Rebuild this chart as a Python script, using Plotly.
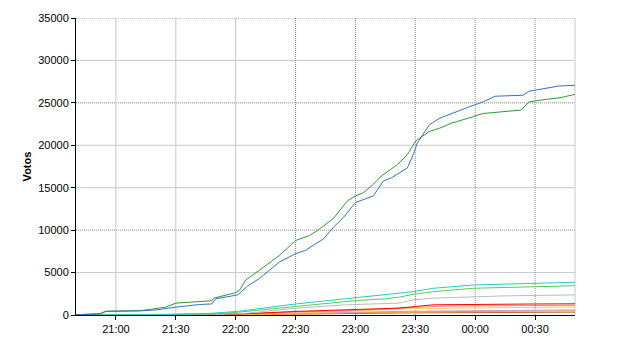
import pandas as pd
import plotly.graph_objects as go

# ---- data (times HH:MM, values = votes) ----
green_t = ["20:40","20:52","20:55","21:12","21:17","21:25","21:30","21:42","21:48","21:49","22:00","22:02","22:05","22:12","22:22","22:30","22:37","22:41","22:49","22:56","23:00","23:04","23:09","23:13","23:21","23:26","23:30","23:31","23:37","23:42","23:48","23:59","00:04","00:23","00:27","00:36","00:42","00:50"]
green_v = [30,150,450,520,650,930,1400,1630,1680,1980,2640,2950,4120,5290,7030,8780,9370,9950,11390,13450,14035,14420,15400,16370,17730,18900,20450,20650,21620,22000,22590,23370,23750,24150,25120,25430,25580,26000]

blue_t = ["20:40","20:52","20:55","21:12","21:20","21:25","21:30","21:42","21:48","21:50","22:00","22:01","22:06","22:12","22:22","22:30","22:35","22:39","22:44","22:49","22:54","23:00","23:06","23:09","23:14","23:18","23:22","23:26","23:29","23:31","23:37","23:42","23:57","00:04","00:10","00:24","00:27","00:42","00:50"]
blue_v = [30,150,420,480,600,770,930,1240,1300,1900,2250,2370,3420,4320,6250,7230,7620,8200,8980,10340,11500,13250,13720,14035,15790,16170,16750,17340,18900,20260,22400,23170,24530,25120,25780,25900,26370,26990,27070]

cyan_t = ["20:40","21:20","21:45","21:55","22:02","22:30","22:50","23:00","23:22","23:29","23:39","23:59","00:29","00:50"]
cyan_v = [0,30,150,350,450,1300,1800,2050,2560,2750,3150,3535,3730,3850]

lgreen_t = ["20:40","21:45","22:00","22:30","23:00","23:15","23:22","23:29","23:39","23:59","00:50"]
lgreen_v = [0,100,300,1000,1700,1900,2100,2450,2750,3150,3450]

grey_t = ["20:40","21:50","22:05","22:30","22:55","23:22","23:29","23:39","00:14","00:50"]
grey_v = [0,50,200,800,1200,1400,1785,1983,2250,2370]

red_t = ["20:40","22:00","22:30","23:00","23:22","23:30","23:39","00:30","00:50"]
red_v = [0,100,420,618,815,1000,1200,1300,1320]

salmon_t = ["20:40","22:00","22:30","23:00","23:30","23:45","00:50"]
salmon_v = [0,80,350,550,900,1050,1150]

yellow_t = ["20:40","22:00","22:30","23:00","23:22","00:00","00:50"]
yellow_v = [0,50,250,450,735,850,950]

lavender_t = ["20:40","22:30","23:30","00:50"]
lavender_v = [0,200,450,600]

orange_t = ["20:40","22:00","22:30","23:00","23:30","00:50"]
orange_v = [0,30,150,250,380,480]

brown_t = ["20:40","22:30","23:30","00:50"]
brown_v = [0,100,250,330]

x_ticks = ["21:00","21:30","22:00","22:30","23:00","23:30","00:00","00:30"]
y_ticks = [0,5000,10000,15000,20000,25000,30000,35000]
y_dotted = [35000,25000,10000]
x_dotted = ["22:30","23:00","23:30","00:00","00:30"]

BASE = pd.Timestamp("2011-05-22")

def ts(s):
    h, m = map(int, s.split(":"))
    d = BASE + pd.Timedelta(hours=h, minutes=m)
    if h < 12:
        d += pd.Timedelta(days=1)
    return d

def tl(lst):
    return [ts(s) for s in lst]

series = [
    (brown_t, brown_v, "#cc6633"),
    (orange_t, orange_v, "#ff9900"),
    (lavender_t, lavender_v, "#cc99cc"),
    (yellow_t, yellow_v, "#ffcc55"),
    (salmon_t, salmon_v, "#ff8080"),
    (red_t, red_v, "#ff0000"),
    (grey_t, grey_v, "#bbbbbb"),
    (lgreen_t, lgreen_v, "#55cc55"),
    (cyan_t, cyan_v, "#22cccc"),
    (green_t, green_v, "#2e9a2e"),
    (blue_t, blue_v, "#2f74d0"),
]

fig = go.Figure()
for t, v, c in series:
    fig.add_trace(go.Scatter(x=tl(t), y=v, mode="lines",
                             line=dict(color=c, width=1), showlegend=False))

x0, x1 = ts("20:40"), ts("00:50")

shapes = []
for yv in y_ticks[1:]:
    dotted = yv in y_dotted
    shapes.append(dict(type="line", xref="paper", yref="y", x0=0, x1=1, y0=yv, y1=yv,
                       line=dict(color="#888888" if dotted else "#c8c8c8", width=1,
                                 dash="1px,1px" if dotted else "solid"), layer="below"))
for xt in x_ticks:
    dotted = xt in x_dotted
    shapes.append(dict(type="line", xref="x", yref="paper", x0=ts(xt), x1=ts(xt), y0=0, y1=1,
                       line=dict(color="#888888" if dotted else "#c8c8c8", width=1,
                                 dash="1px,1px" if dotted else "solid"), layer="below"))
shapes.append(dict(type="line", xref="paper", yref="paper", x0=1, x1=1, y0=0, y1=1,
                   line=dict(color="#c8c8c8", width=1), layer="below"))

fig.update_layout(
    width=640, height=350,
    margin=dict(l=76, r=65, t=15, b=35),
    paper_bgcolor="white", plot_bgcolor="white",
    font=dict(family="Liberation Sans, Arial, sans-serif", size=11, color="black"),
    shapes=shapes,
    xaxis=dict(range=[x0, x1], showgrid=False, zeroline=False,
               tickvals=tl(x_ticks), ticktext=x_ticks,
               showline=True, linecolor="black", linewidth=1,
               ticks="outside", ticklen=4, tickcolor="black"),
    yaxis=dict(range=[0, 35000], showgrid=False, zeroline=False,
               tickvals=y_ticks, ticktext=[str(v) for v in y_ticks],
               showline=True, linecolor="black", linewidth=1,
               ticks="outside", ticklen=4, tickcolor="black",
               title=dict(text="<b>Votos</b>", standoff=4, font=dict(size=11))),
)

fig.write_html("out.html")
